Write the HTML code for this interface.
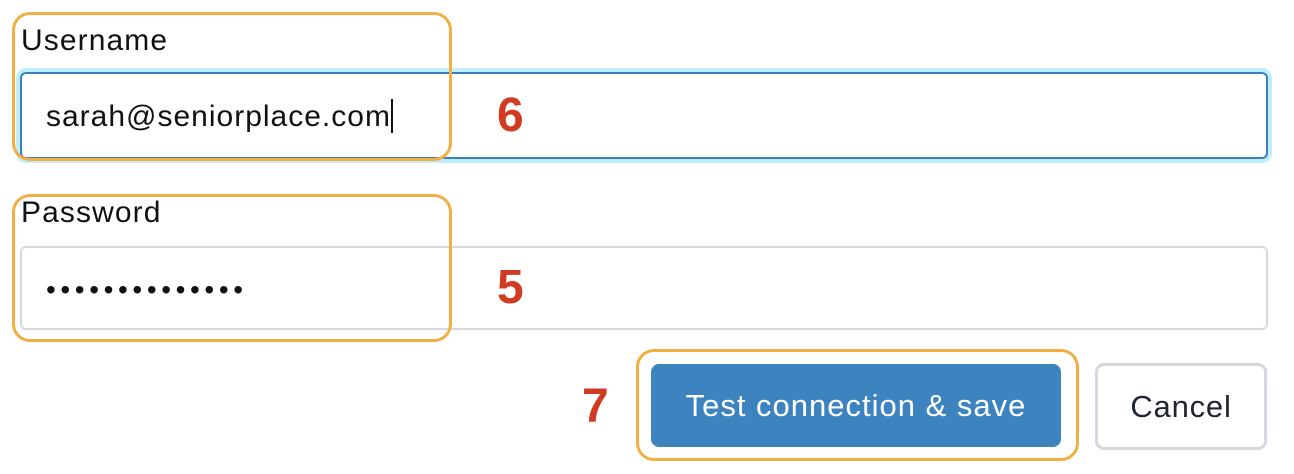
<!DOCTYPE html>
<html><head><style>
body{margin:0;width:1294px;height:474px;background:#fff;position:relative;overflow:hidden;font-family:"Liberation Sans",Arial,sans-serif}
.a{position:absolute}
.lbl{font-size:30px;color:#111;left:21px;letter-spacing:1.1px}
.inp{left:20px;width:1248px;box-sizing:border-box;border-radius:6px}
.ob{border:3px solid #f3ae42;border-radius:18px;box-sizing:border-box}
.num{color:#d13b22;font-weight:bold;font-size:48px}
</style></head><body>
<div class="a lbl" style="top:24px">Username</div>
<div class="a inp" style="top:72px;height:87px;border:2px solid #3a80c1;box-shadow:0 0 0 4px #bfeefb"></div>
<div class="a" style="left:46px;top:99px;font-size:30px;color:#111;letter-spacing:1px">sarah@seniorplace.com<span style="display:inline-block;width:2px;height:34px;background:#111;vertical-align:-7px;margin-left:0"></span></div>
<div class="a lbl" style="top:196px">Password</div>
<div class="a inp" style="top:246px;height:84px;border:2px solid #d6d8de"></div>
<div class="a" style="left:46px;top:274px;font-size:28px;color:#111;letter-spacing:4.6px">••••••••••••••</div>
<div class="a ob" style="left:12px;top:12px;width:440px;height:149px"></div>
<div class="a ob" style="left:12px;top:194px;width:440px;height:148px"></div>
<div class="a num" style="left:497px;top:88px">6</div>
<div class="a num" style="left:497px;top:260px">5</div>
<div class="a num" style="left:582px;top:379px">7</div>
<div class="a" style="left:651px;top:364px;width:410px;height:83px;background:#3d83c0;border-radius:8px;color:#fff;font-size:31px;letter-spacing:1px;display:flex;align-items:center;justify-content:center">Test connection &amp; save</div>
<div class="a ob" style="left:636px;top:349px;width:443px;height:112px"></div>
<div class="a" style="left:1095px;top:363px;width:172px;height:87px;box-sizing:border-box;border:3px solid #d6d8e0;border-radius:9px;color:#1f2430;font-size:31px;letter-spacing:0.8px;display:flex;align-items:center;justify-content:center">Cancel</div>
</body></html>
